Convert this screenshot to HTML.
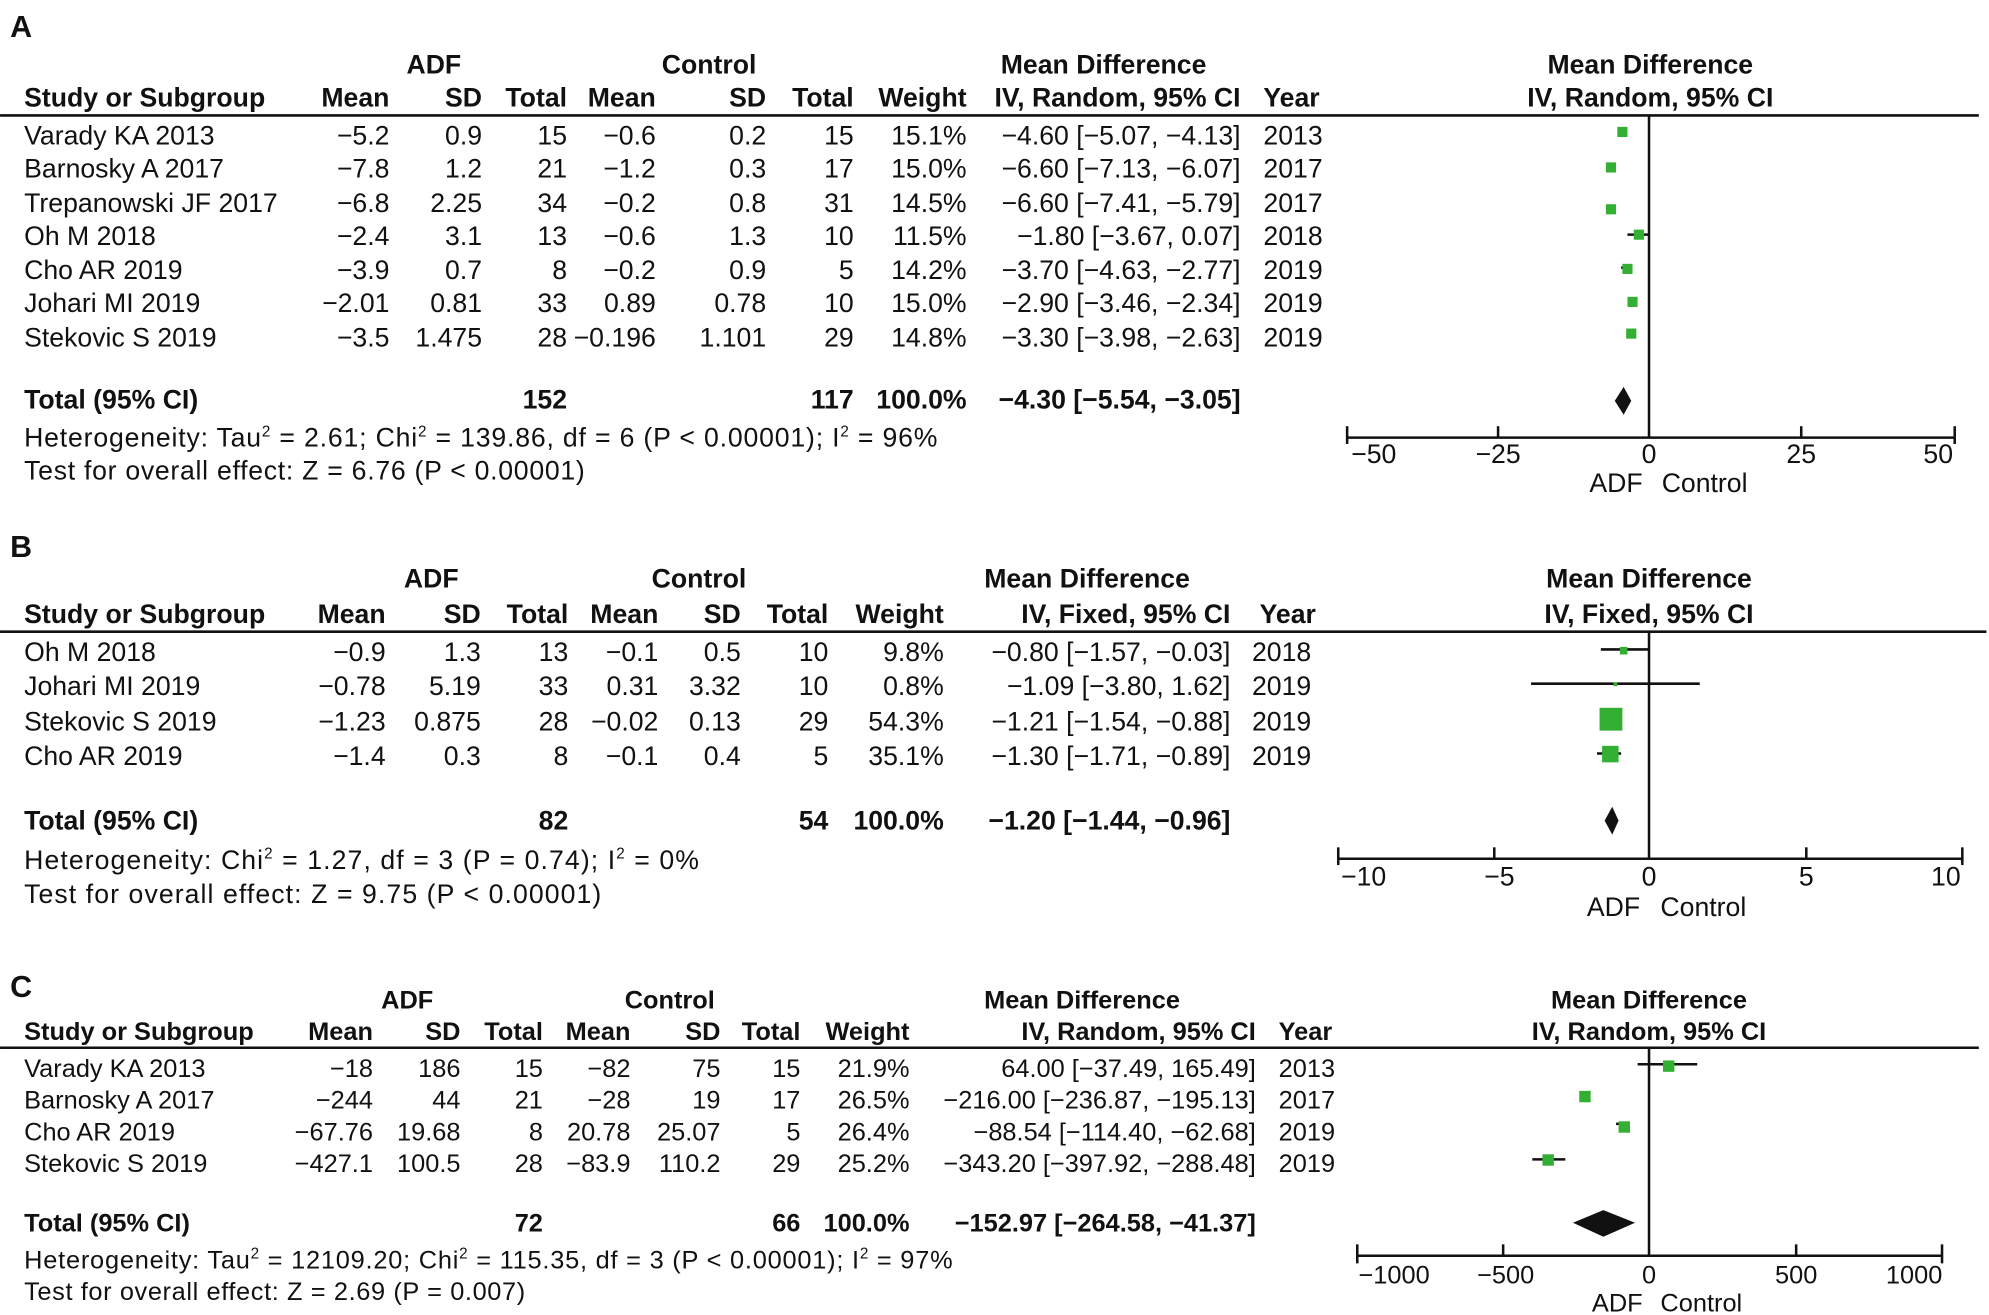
<!DOCTYPE html>
<html><head><meta charset="utf-8"><style>
html,body{margin:0;padding:0;background:#fff;}
svg{display:block}
text{font-family:"Liberation Sans",sans-serif;font-size:21px;fill:#111}
.b{font-weight:bold}
.e{text-anchor:end}
.m{text-anchor:middle}
.c text{font-size:20px}
.L{font-size:24px !important;font-weight:bold}
</style></head><body>
<svg width="1989" height="1315" viewBox="0 0 1568 1036.7" xmlns="http://www.w3.org/2000/svg">
<!-- PANEL A -->
<g>
<text x="8" y="29" class="L">A</text>
<text x="342" y="58" class="b m">ADF</text>
<text x="559" y="58" class="b m">Control</text>
<text x="870" y="58" class="b m">Mean Difference</text>
<text x="1301" y="58" class="b m">Mean Difference</text>
<text x="19" y="84" class="b">Study or Subgroup</text>
<text x="307" y="84" class="b e">Mean</text><text x="380" y="84" class="b e">SD</text><text x="447" y="84" class="b e">Total</text>
<text x="517" y="84" class="b e">Mean</text><text x="604" y="84" class="b e">SD</text><text x="673" y="84" class="b e">Total</text>
<text x="762" y="84" class="b e">Weight</text><text x="978" y="84" class="b e">IV, Random, 95% CI</text>
<text x="996" y="84" class="b">Year</text>
<text x="1301" y="84" class="b m">IV, Random, 95% CI</text>
<line x1="0" y1="91" x2="1560" y2="91" stroke="#111" stroke-width="2"/>
<g>
<text x="19" y="114">Varady KA 2013</text><text x="307" y="114" class="e">−5.2</text><text x="380" y="114" class="e">0.9</text><text x="447" y="114" class="e">15</text><text x="517" y="114" class="e">−0.6</text><text x="604" y="114" class="e">0.2</text><text x="673" y="114" class="e">15</text><text x="762" y="114" class="e">15.1%</text><text x="978" y="114" class="e">−4.60 [−5.07, −4.13]</text><text x="996" y="114">2013</text>
<text x="19" y="140">Barnosky A 2017</text><text x="307" y="140" class="e">−7.8</text><text x="380" y="140" class="e">1.2</text><text x="447" y="140" class="e">21</text><text x="517" y="140" class="e">−1.2</text><text x="604" y="140" class="e">0.3</text><text x="673" y="140" class="e">17</text><text x="762" y="140" class="e">15.0%</text><text x="978" y="140" class="e">−6.60 [−7.13, −6.07]</text><text x="996" y="140">2017</text>
<text x="19" y="167">Trepanowski JF 2017</text><text x="307" y="167" class="e">−6.8</text><text x="380" y="167" class="e">2.25</text><text x="447" y="167" class="e">34</text><text x="517" y="167" class="e">−0.2</text><text x="604" y="167" class="e">0.8</text><text x="673" y="167" class="e">31</text><text x="762" y="167" class="e">14.5%</text><text x="978" y="167" class="e">−6.60 [−7.41, −5.79]</text><text x="996" y="167">2017</text>
<text x="19" y="193">Oh M 2018</text><text x="307" y="193" class="e">−2.4</text><text x="380" y="193" class="e">3.1</text><text x="447" y="193" class="e">13</text><text x="517" y="193" class="e">−0.6</text><text x="604" y="193" class="e">1.3</text><text x="673" y="193" class="e">10</text><text x="762" y="193" class="e">11.5%</text><text x="978" y="193" class="e">−1.80 [−3.67, 0.07]</text><text x="996" y="193">2018</text>
<text x="19" y="220">Cho AR 2019</text><text x="307" y="220" class="e">−3.9</text><text x="380" y="220" class="e">0.7</text><text x="447" y="220" class="e">8</text><text x="517" y="220" class="e">−0.2</text><text x="604" y="220" class="e">0.9</text><text x="673" y="220" class="e">5</text><text x="762" y="220" class="e">14.2%</text><text x="978" y="220" class="e">−3.70 [−4.63, −2.77]</text><text x="996" y="220">2019</text>
<text x="19" y="246">Johari MI 2019</text><text x="307" y="246" class="e">−2.01</text><text x="380" y="246" class="e">0.81</text><text x="447" y="246" class="e">33</text><text x="517" y="246" class="e">0.89</text><text x="604" y="246" class="e">0.78</text><text x="673" y="246" class="e">10</text><text x="762" y="246" class="e">15.0%</text><text x="978" y="246" class="e">−2.90 [−3.46, −2.34]</text><text x="996" y="246">2019</text>
<text x="19" y="273">Stekovic S 2019</text><text x="307" y="273" class="e">−3.5</text><text x="380" y="273" class="e">1.475</text><text x="447" y="273" class="e">28</text><text x="517" y="273" class="e">−0.196</text><text x="604" y="273" class="e">1.101</text><text x="673" y="273" class="e">29</text><text x="762" y="273" class="e">14.8%</text><text x="978" y="273" class="e">−3.30 [−3.98, −2.63]</text><text x="996" y="273">2019</text>
</g>
<text x="19" y="322" class="b">Total (95% CI)</text><text x="447" y="322" class="b e">152</text><text x="673" y="322" class="b e">117</text><text x="762" y="322" class="b e">100.0%</text><text x="978" y="322" class="b e">−4.30 [−5.54, −3.05]</text>
<text x="19" y="352" textLength="720">Heterogeneity: Tau<tspan font-size="12" dy="-8">2</tspan><tspan dy="8"> = 2.61; Chi</tspan><tspan font-size="12" dy="-8">2</tspan><tspan dy="8"> = 139.86, df = 6 (P &lt; 0.00001); I</tspan><tspan font-size="12" dy="-8">2</tspan><tspan dy="8"> = 96%</tspan></text>
<text x="19" y="378" textLength="442">Test for overall effect: Z = 6.76 (P &lt; 0.00001)</text>
<g stroke="#111" stroke-width="2" fill="none">
<line x1="1300" y1="91" x2="1300" y2="345"/>
<line x1="1062" y1="345" x2="1541" y2="345"/>
<line x1="1062" y1="336" x2="1062" y2="350"/><line x1="1181" y1="336" x2="1181" y2="345"/><line x1="1420" y1="336" x2="1420" y2="345"/><line x1="1541" y1="336" x2="1541" y2="350"/>
<line x1="1283" y1="185" x2="1300" y2="185"/>
<line x1="1278" y1="211" x2="1287" y2="211"/>
</g>
<g fill="#33b033">
<rect x="1275" y="100" width="8" height="8"/>
<rect x="1266" y="128" width="8" height="8"/>
<rect x="1266" y="161" width="8" height="8"/>
<rect x="1288" y="181" width="8" height="8"/>
<rect x="1279" y="208" width="8" height="8"/>
<rect x="1283" y="234" width="8" height="8"/>
<rect x="1282" y="259" width="8" height="8"/>
</g>
<polygon points="1273,316 1280,305 1286,316 1280,327" fill="#111"/>
<text x="1083" y="365" class="m">−50</text><text x="1181" y="365" class="m">−25</text><text x="1300" y="365" class="m">0</text><text x="1420" y="365" class="m">25</text><text x="1528" y="365" class="m">50</text>
<text x="1295" y="388" class="e">ADF</text><text x="1310" y="388">Control</text>
</g>

<!-- PANEL B -->
<g>
<text x="8" y="439" class="L">B</text>
<text x="340" y="463" class="b m">ADF</text>
<text x="551" y="463" class="b m">Control</text>
<text x="857" y="463" class="b m">Mean Difference</text>
<text x="1300" y="463" class="b m">Mean Difference</text>
<text x="19" y="491" class="b">Study or Subgroup</text>
<text x="304" y="491" class="b e">Mean</text><text x="379" y="491" class="b e">SD</text><text x="448" y="491" class="b e">Total</text>
<text x="519" y="491" class="b e">Mean</text><text x="584" y="491" class="b e">SD</text><text x="653" y="491" class="b e">Total</text>
<text x="744" y="491" class="b e">Weight</text><text x="970" y="491" class="b e">IV, Fixed, 95% CI</text>
<text x="993" y="491" class="b">Year</text>
<text x="1300" y="491" class="b m">IV, Fixed, 95% CI</text>
<line x1="0" y1="498" x2="1566" y2="498" stroke="#111" stroke-width="2"/>
<text x="19" y="521">Oh M 2018</text><text x="304" y="521" class="e">−0.9</text><text x="379" y="521" class="e">1.3</text><text x="448" y="521" class="e">13</text><text x="519" y="521" class="e">−0.1</text><text x="584" y="521" class="e">0.5</text><text x="653" y="521" class="e">10</text><text x="744" y="521" class="e">9.8%</text><text x="970" y="521" class="e">−0.80 [−1.57, −0.03]</text><text x="987" y="521">2018</text>
<text x="19" y="548">Johari MI 2019</text><text x="304" y="548" class="e">−0.78</text><text x="379" y="548" class="e">5.19</text><text x="448" y="548" class="e">33</text><text x="519" y="548" class="e">0.31</text><text x="584" y="548" class="e">3.32</text><text x="653" y="548" class="e">10</text><text x="744" y="548" class="e">0.8%</text><text x="970" y="548" class="e">−1.09 [−3.80, 1.62]</text><text x="987" y="548">2019</text>
<text x="19" y="576">Stekovic S 2019</text><text x="304" y="576" class="e">−1.23</text><text x="379" y="576" class="e">0.875</text><text x="448" y="576" class="e">28</text><text x="519" y="576" class="e">−0.02</text><text x="584" y="576" class="e">0.13</text><text x="653" y="576" class="e">29</text><text x="744" y="576" class="e">54.3%</text><text x="970" y="576" class="e">−1.21 [−1.54, −0.88]</text><text x="987" y="576">2019</text>
<text x="19" y="603">Cho AR 2019</text><text x="304" y="603" class="e">−1.4</text><text x="379" y="603" class="e">0.3</text><text x="448" y="603" class="e">8</text><text x="519" y="603" class="e">−0.1</text><text x="584" y="603" class="e">0.4</text><text x="653" y="603" class="e">5</text><text x="744" y="603" class="e">35.1%</text><text x="970" y="603" class="e">−1.30 [−1.71, −0.89]</text><text x="987" y="603">2019</text>
<text x="19" y="654" class="b">Total (95% CI)</text><text x="448" y="654" class="b e">82</text><text x="653" y="654" class="b e">54</text><text x="744" y="654" class="b e">100.0%</text><text x="970" y="654" class="b e">−1.20 [−1.44, −0.96]</text>
<text x="19" y="685" textLength="532">Heterogeneity: Chi<tspan font-size="12" dy="-8">2</tspan><tspan dy="8"> = 1.27, df = 3 (P = 0.74); I</tspan><tspan font-size="12" dy="-8">2</tspan><tspan dy="8"> = 0%</tspan></text>
<text x="19" y="712" textLength="455">Test for overall effect: Z = 9.75 (P &lt; 0.00001)</text>
<g stroke="#111" stroke-width="2" fill="none">
<line x1="1300" y1="498" x2="1300" y2="677"/>
<line x1="1055" y1="677" x2="1547" y2="677"/>
<line x1="1055" y1="668" x2="1055" y2="682"/><line x1="1178" y1="668" x2="1178" y2="677"/><line x1="1424" y1="668" x2="1424" y2="677"/><line x1="1547" y1="668" x2="1547" y2="682"/>
<line x1="1262" y1="512" x2="1300" y2="512"/>
<line x1="1207" y1="539" x2="1340" y2="539"/>
<line x1="1259" y1="594" x2="1278" y2="594"/>
</g>
<g fill="#33b033">
<rect x="1277" y="510" width="6" height="6"/>
<rect x="1272" y="538" width="3" height="3"/>
<rect x="1261" y="558" width="18" height="18"/>
<rect x="1263" y="588" width="13" height="13"/>
</g>
<polygon points="1265,647 1271,636 1276,647 1271,658" fill="#111"/>
<text x="1075" y="698" class="m">−10</text><text x="1182" y="698" class="m">−5</text><text x="1300" y="698" class="m">0</text><text x="1424" y="698" class="m">5</text><text x="1534" y="698" class="m">10</text>
<text x="1293" y="722" class="e">ADF</text><text x="1309" y="722">Control</text>
</g>

<!-- PANEL C -->
<g class="c">
<text x="8" y="786" class="L">C</text>
<text x="321" y="795" class="b m">ADF</text>
<text x="528" y="795" class="b m">Control</text>
<text x="853" y="795" class="b m">Mean Difference</text>
<text x="1300" y="795" class="b m">Mean Difference</text>
<text x="19" y="820" class="b">Study or Subgroup</text>
<text x="294" y="820" class="b e">Mean</text><text x="363" y="820" class="b e">SD</text><text x="428" y="820" class="b e">Total</text>
<text x="497" y="820" class="b e">Mean</text><text x="568" y="820" class="b e">SD</text><text x="631" y="820" class="b e">Total</text>
<text x="717" y="820" class="b e">Weight</text><text x="990" y="820" class="b e">IV, Random, 95% CI</text>
<text x="1008" y="820" class="b">Year</text>
<text x="1300" y="820" class="b m">IV, Random, 95% CI</text>
<line x1="0" y1="826" x2="1560" y2="826" stroke="#111" stroke-width="2"/>
<text x="19" y="849">Varady KA 2013</text><text x="294" y="849" class="e">−18</text><text x="363" y="849" class="e">186</text><text x="428" y="849" class="e">15</text><text x="497" y="849" class="e">−82</text><text x="568" y="849" class="e">75</text><text x="631" y="849" class="e">15</text><text x="717" y="849" class="e">21.9%</text><text x="990" y="849" class="e">64.00 [−37.49, 165.49]</text><text x="1008" y="849">2013</text>
<text x="19" y="874">Barnosky A 2017</text><text x="294" y="874" class="e">−244</text><text x="363" y="874" class="e">44</text><text x="428" y="874" class="e">21</text><text x="497" y="874" class="e">−28</text><text x="568" y="874" class="e">19</text><text x="631" y="874" class="e">17</text><text x="717" y="874" class="e">26.5%</text><text x="990" y="874" class="e">−216.00 [−236.87, −195.13]</text><text x="1008" y="874">2017</text>
<text x="19" y="899">Cho AR 2019</text><text x="294" y="899" class="e">−67.76</text><text x="363" y="899" class="e">19.68</text><text x="428" y="899" class="e">8</text><text x="497" y="899" class="e">20.78</text><text x="568" y="899" class="e">25.07</text><text x="631" y="899" class="e">5</text><text x="717" y="899" class="e">26.4%</text><text x="990" y="899" class="e">−88.54 [−114.40, −62.68]</text><text x="1008" y="899">2019</text>
<text x="19" y="924">Stekovic S 2019</text><text x="294" y="924" class="e">−427.1</text><text x="363" y="924" class="e">100.5</text><text x="428" y="924" class="e">28</text><text x="497" y="924" class="e">−83.9</text><text x="568" y="924" class="e">110.2</text><text x="631" y="924" class="e">29</text><text x="717" y="924" class="e">25.2%</text><text x="990" y="924" class="e">−343.20 [−397.92, −288.48]</text><text x="1008" y="924">2019</text>
<text x="19" y="971" class="b">Total (95% CI)</text><text x="428" y="971" class="b e">72</text><text x="631" y="971" class="b e">66</text><text x="717" y="971" class="b e">100.0%</text><text x="990" y="971" class="b e">−152.97 [−264.58, −41.37]</text>
<text x="19" y="1000" textLength="732">Heterogeneity: Tau<tspan font-size="12" dy="-8">2</tspan><tspan dy="8"> = 12109.20; Chi</tspan><tspan font-size="12" dy="-8">2</tspan><tspan dy="8"> = 115.35, df = 3 (P &lt; 0.00001); I</tspan><tspan font-size="12" dy="-8">2</tspan><tspan dy="8"> = 97%</tspan></text>
<text x="19" y="1025" textLength="395">Test for overall effect: Z = 2.69 (P = 0.007)</text>
<g stroke="#111" stroke-width="2" fill="none">
<line x1="1300" y1="826" x2="1300" y2="990"/>
<line x1="1070" y1="990" x2="1531" y2="990"/>
<line x1="1070" y1="981" x2="1070" y2="996"/><line x1="1185" y1="981" x2="1185" y2="990"/><line x1="1416" y1="981" x2="1416" y2="990"/><line x1="1531" y1="981" x2="1531" y2="996"/>
<line x1="1291" y1="839" x2="1338" y2="839"/>
<line x1="1274" y1="886" x2="1285" y2="886"/>
<line x1="1208" y1="914" x2="1234" y2="914"/>
</g>
<g fill="#33b033">
<rect x="1311" y="836" width="9" height="9"/>
<rect x="1245" y="860" width="9" height="9"/>
<rect x="1276" y="884" width="9" height="9"/>
<rect x="1216" y="910" width="9" height="9"/>
</g>
<polygon points="1240,964 1264,954 1289,964 1264,975" fill="#111"/>
<text x="1099" y="1012" class="m">−1000</text><text x="1187" y="1012" class="m">−500</text><text x="1300" y="1012" class="m">0</text><text x="1416" y="1012" class="m">500</text><text x="1509" y="1012" class="m">1000</text>
<text x="1295" y="1034" class="e">ADF</text><text x="1309" y="1034">Control</text>
</g>
</svg>
</body></html>
